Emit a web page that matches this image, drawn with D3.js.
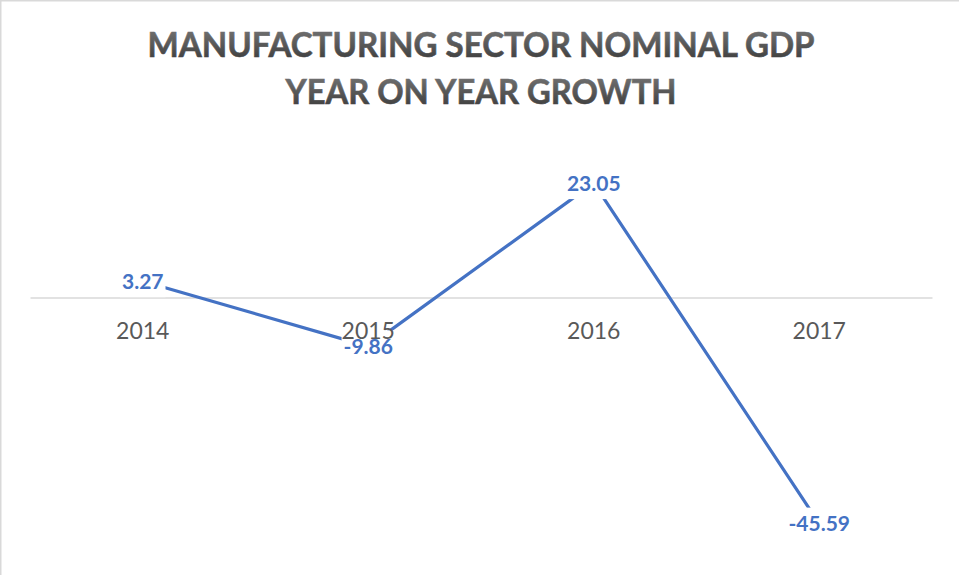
<!DOCTYPE html>
<html>
<head>
<meta charset="utf-8">
<script src="https://cdn.jsdelivr.net/npm/d3@7/dist/d3.min.js"></script>
<style>
  html, body { margin: 0; padding: 0; background: #fff; }
  svg { display: block; }
</style>
</head>
<body>
<svg id="chart" width="959" height="575"></svg>
<script>
// Manufacturing sector nominal GDP, year-on-year growth (%)
const years = ["2014", "2015", "2016", "2017"];
const growth = [3.27, -9.86, 23.05, -45.59];
const titleLines = ["MANUFACTURING SECTOR NOMINAL GDP", "YEAR ON YEAR GROWTH"];
const yDomain = [-50, 30];

const W = 959, H = 575;
const svg = d3.select("#chart");
const font = "Lato, 'Open Sans', sans-serif";

// vertical grey gradient used by the title lettering
const defs = svg.append("defs");
const grad = defs.append("linearGradient")
  .attr("id", "titleGrad").attr("x1", 0).attr("y1", 0).attr("x2", 0).attr("y2", 1);
grad.append("stop").attr("offset", "0%").attr("stop-color", "#7a7a7a");
grad.append("stop").attr("offset", "100%").attr("stop-color", "#383838");

// layers, bottom to top
const gFrame = svg.append("g");
const gTitle = svg.append("g");
const gAxis = svg.append("g");
const gLine = svg.append("g");
const gBoxes = svg.append("g");
const gCats = svg.append("g");
const gLabels = svg.append("g");

// chart frame (only top and left edges fall inside the view)
gFrame.append("rect")
  .attr("x", 0.75).attr("y", 0.75).attr("width", W + 10).attr("height", H + 10)
  .attr("fill", "none").attr("stroke", "#d9d9d9").attr("stroke-width", 1.5);

// title
const titleY = [57, 104];
const titleW = [667, 391];
gTitle.selectAll("text")
  .data(titleLines)
  .join("text")
  .attr("x", 481)
  .attr("y", (d, i) => titleY[i])
  .attr("text-anchor", "middle")
  .attr("font-family", font)
  .attr("font-weight", 700)
  .attr("font-size", 33.5)
  .attr("textLength", (d, i) => titleW[i])
  .attr("lengthAdjust", "spacingAndGlyphs")
  .attr("fill", "url(#titleGrad)")
  .attr("stroke", "url(#titleGrad)")
  .attr("stroke-width", 0.6)
  .text(d => d);

// scales
const x = d3.scaleBand().domain(years).range([30, 932]).padding(0);
const cx = d => x(d) + x.bandwidth() / 2;
const y = d3.scaleLinear().domain(yDomain).range([545.5, 148.6]);

// horizontal category axis at zero
gAxis.attr("transform", `translate(0,${y(0)})`)
  .call(d3.axisBottom(x).tickSize(0).tickPadding(0).tickFormat(() => ""));
gAxis.select(".domain").attr("stroke", "#d9d9d9").attr("stroke-width", 1.5);

// series line
const pts = years.map((yr, i) => ({ yr, v: growth[i] }));
gLine.append("path")
  .datum(pts)
  .attr("fill", "none")
  .attr("stroke", "#4472C4")
  .attr("stroke-width", 3.2)
  .attr("stroke-linejoin", "round")
  .attr("d", d3.line().x(d => cx(d.yr)).y(d => y(d.v)));

// data labels with white backgrounds
const labelFont = 21;
const labelText = gLabels.selectAll("text")
  .data(pts)
  .join("text")
  .attr("x", d => cx(d.yr))
  .attr("y", d => y(d.v) + labelFont * 0.36)
  .attr("text-anchor", "middle")
  .attr("font-family", font)
  .attr("font-weight", 700)
  .attr("font-size", labelFont)
  .attr("fill", "#4472C4")
  .text(d => d.v.toFixed(2));

labelText.each(function (d) {
  const bb = this.getBBox();
  gBoxes.append("rect")
    .attr("x", bb.x - 2)
    .attr("y", y(d.v) - 16)
    .attr("width", bb.width + 4)
    .attr("height", 32)
    .attr("fill", "#fff");
});

// category names beneath the axis
gCats.selectAll("text")
  .data(years)
  .join("text")
  .attr("x", d => cx(d))
  .attr("y", 338.5)
  .attr("text-anchor", "middle")
  .attr("font-family", font)
  .attr("font-size", 23)
  .attr("fill", "#595959")
  .text(d => d);
</script>
</body>
</html>
